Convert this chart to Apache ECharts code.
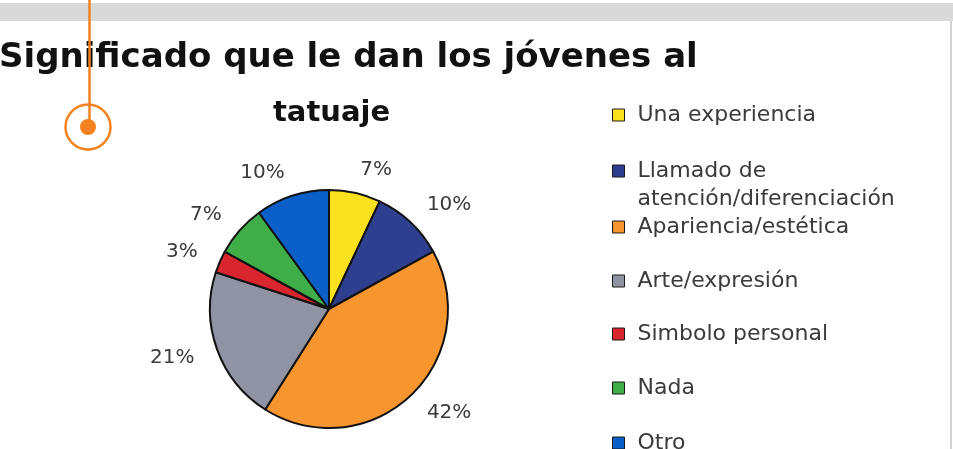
<!DOCTYPE html>
<html>
<head>
<meta charset="utf-8">
<script src="https://cdn.jsdelivr.net/npm/echarts@6/dist/echarts.min.js"></script>
<style>
html,body{margin:0;padding:0;background:#fff;}
#chart{width:953px;height:449px;}
</style>
</head>
<body>
<div id="chart"></div>
<script>
const titleLine1 = 'Significado que le dan los jóvenes al';
const titleLine2 = 'tatuaje';
const categories = ['Una experiencia', 'Llamado de atención/diferenciación', 'Apariencia/estética', 'Arte/expresión', 'Simbolo personal', 'Nada', 'Otro'];
const legendLabels = ['Una experiencia', 'Llamado de\natención/diferenciación', 'Apariencia/estética', 'Arte/expresión', 'Simbolo personal', 'Nada', 'Otro'];
const values = [7, 10, 42, 21, 3, 7, 10];
const colors = ['#F9E11E', '#2F3F8F', '#F7962E', '#8F93A3', '#D9262E', '#3FAE49', '#0A5FC8'];

const chart = echarts.init(document.getElementById('chart'));
const FONT = 'DejaVu Sans';
const ORANGE = '#F5821F';

const legendIconCenters = [115, 171, 227, 281, 334, 388, 443];
const legends = categories.map(function (name, i) {
  const isTwoLine = legendLabels[i].indexOf('\n') >= 0;
  // a blank spacer line above a two-line label keeps its first line level with the icon
  const shown = isTwoLine ? ' \n' + legendLabels[i] : legendLabels[i];
  return {
    orient: 'vertical',
    left: 612,
    top: legendIconCenters[i] - (isTwoLine ? 42 : 14),
    padding: 0,
    itemWidth: 12,
    itemHeight: 12,
    icon: 'rect',
    selectedMode: false,
    data: [name],
    formatter: function () { return shown; },
    itemStyle: { borderColor: '#1a1a1a', borderWidth: 1 },
    textStyle: {
      fontFamily: FONT,
      fontSize: 22,
      color: '#3a3a3a',
      lineHeight: 28,
      padding: [0, 0, 0, 8]
    }
  };
});

const option = {
  backgroundColor: '#ffffff',
  animation: false,
  title: [
    {
      text: titleLine1,
      left: -1,
      top: 41,
      padding: 0,
      textStyle: { fontFamily: FONT, fontWeight: 'bold', fontSize: 34, color: '#111' }
    },
    {
      text: titleLine2,
      left: 273,
      top: 99,
      padding: 0,
      textStyle: { fontFamily: FONT, fontWeight: 'bold', fontSize: 29, color: '#111' }
    }
  ],
  legend: legends,
  series: [{
    type: 'pie',
    center: [329, 309],
    radius: 119,
    startAngle: 90,
    clockwise: true,
    silent: true,
    itemStyle: { borderColor: '#111', borderWidth: 2 },
    label: {
      show: true,
      position: 'outside',
      formatter: '{c}%',
      fontFamily: FONT,
      fontSize: 20,
      color: '#3a3a3a',
      distanceToLabelLine: 0
    },
    labelLine: { show: false, length: 24, length2: 0 },
    data: categories.map(function (name, i) {
      return { name: name, value: values[i], itemStyle: { color: colors[i] } };
    })
  }],
  graphic: [
    { type: 'rect', z: 1, shape: { x: 0, y: 3, width: 953, height: 18 }, style: { fill: '#d9d9d9' } },
    { type: 'line', z: 1, shape: { x1: 951, y1: 21, x2: 951, y2: 449 }, style: { stroke: '#d2d2d2', lineWidth: 2 } },
    { type: 'line', z: 100, shape: { x1: 89.5, y1: 0, x2: 89.5, y2: 127 }, style: { stroke: ORANGE, lineWidth: 2.5 } },
    { type: 'circle', z: 100, shape: { cx: 88, cy: 127, r: 22.5 }, style: { fill: 'none', stroke: ORANGE, lineWidth: 2.5 } },
    { type: 'circle', z: 100, shape: { cx: 88, cy: 127, r: 8 }, style: { fill: ORANGE } }
  ]
};
chart.setOption(option);
</script>
</body>
</html>
